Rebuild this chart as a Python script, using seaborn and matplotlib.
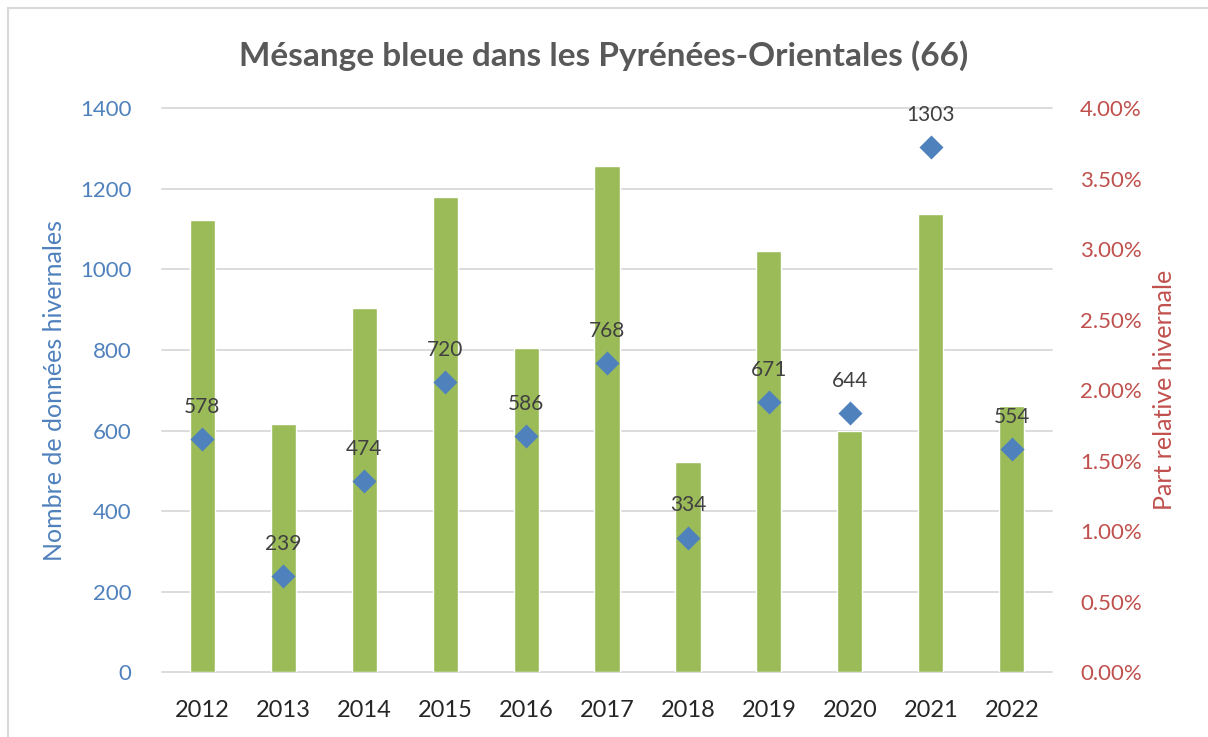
import matplotlib
matplotlib.use("Agg")
import matplotlib.pyplot as plt
import matplotlib.transforms as mtransforms
from matplotlib.patches import Rectangle
from matplotlib.ticker import FuncFormatter
import pandas as pd
import seaborn as sns

# === DATA ===
years = ["2012", "2013", "2014", "2015", "2016", "2017", "2018", "2019", "2020", "2021", "2022"]
counts = [578, 239, 474, 720, 586, 768, 334, 671, 644, 1303, 554]
share_pct = [3.21, 1.76, 2.58, 3.37, 2.30, 3.59, 1.49, 2.99, 1.71, 3.25, 1.89]
count_ticks = [0, 200, 400, 600, 800, 1000, 1200, 1400]
pct_ticks = [0.0, 0.5, 1.0, 1.5, 2.0, 2.5, 3.0, 3.5, 4.0]

df = pd.DataFrame({"year": years, "count": counts, "pct": share_pct})

# === STYLE ===
sns.set_theme(style="white")
plt.rcParams["font.family"] = ["Lato", "DejaVu Sans"]

GREEN = "#9BBB59"
BLUE = "#4F81BD"
RED = "#C0504D"
GRID = "#D9D9D9"
TEXT = "#404040"

fig = plt.figure(figsize=(12.08, 7.37), dpi=100)
ax = fig.add_axes([0.134, 0.088, 0.737, 0.765])   # bars, right axis (%)
ax2 = ax.twinx()                                   # diamonds, left axis (counts)

# bars (share) on the bottom axes
sns.barplot(data=df, x="year", y="pct", color=GREEN, width=0.31,
            saturation=1, ax=ax, zorder=2)
ax.set_ylim(0, 4)
ax.set_yticks(pct_ticks)
ax.yaxis.set_major_formatter(FuncFormatter(lambda v, p: f"{v:.2f}%"))
ax.yaxis.tick_right()
ax.yaxis.set_label_position("right")
ax.set_ylabel("Part relative hivernale", color=RED, fontsize=18, labelpad=8)
ax.tick_params(axis="y", colors=RED, labelsize=16, length=0, pad=20)
ax.tick_params(axis="x", colors="#262626", labelsize=17, length=0, pad=20)
ax.set_xlabel("")
ax.set_xlim(-0.5, len(years) - 0.5)

# gridlines follow the count axis but sit behind the bars
blend = mtransforms.blended_transform_factory(ax.transAxes, ax2.transData)
for v in count_ticks:
    ax.plot([0, 1], [v, v], transform=blend, color=GRID, lw=1.3, zorder=1,
            clip_on=False)

# diamonds (counts) on the top axes
sns.scatterplot(data=df, x="year", y="count", marker="D", s=150, color=BLUE,
                edgecolor=BLUE, linewidth=0, ax=ax2, zorder=3)
ax2.set_ylim(0, 1400)
ax2.set_yticks(count_ticks)
ax2.yaxis.tick_left()
ax2.yaxis.set_label_position("left")
ax2.set_ylabel("Nombre de données hivernales", color=BLUE, fontsize=18, labelpad=10)
ax2.tick_params(axis="y", colors=BLUE, labelsize=16, length=0, pad=22)
ax2.set_xlim(ax.get_xlim())
ax2.set_xlabel("")

for i, c in enumerate(counts):
    ax2.annotate(str(c), (i, c), xytext=(0, 16), textcoords="offset points",
                 ha="center", va="bottom", fontsize=15, color=TEXT)

for a in (ax, ax2):
    for s in a.spines.values():
        s.set_visible(False)
ax2.patch.set_visible(False)

fig.text(0.5, 0.925, "Mésange bleue dans les Pyrénées-Orientales (66)",
         ha="center", va="center", fontsize=24, fontweight="bold", color="#595959")

# chart-area border
fig.add_artist(Rectangle((0.007, -0.1), 1.1, 1.089, transform=fig.transFigure,
                         fill=False, ec=GRID, lw=1.5))

fig.savefig("out.png", dpi=100)
